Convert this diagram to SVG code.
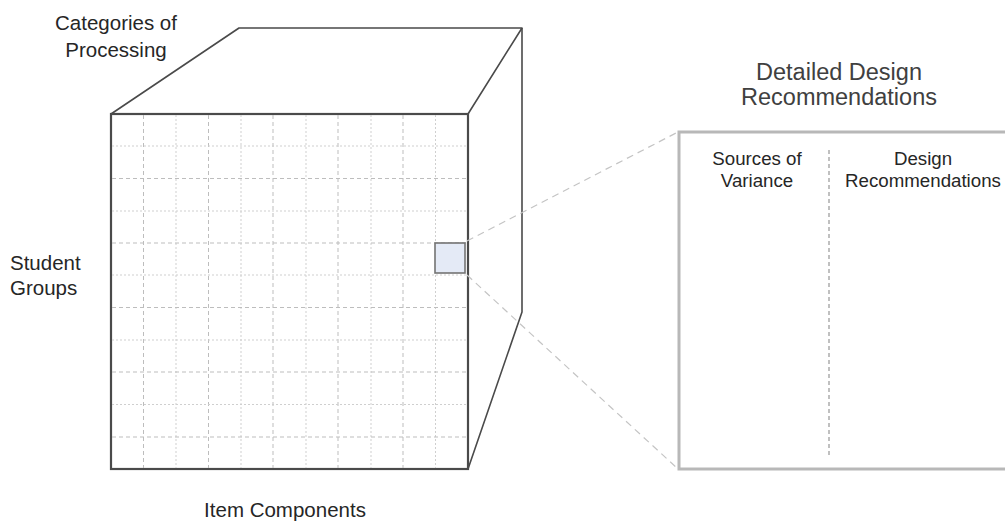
<svg xmlns="http://www.w3.org/2000/svg" width="1005" height="523" viewBox="0 0 1005 523">
  <style>
    .label { font-family: "Liberation Sans", Arial, sans-serif; fill: #262626; }
    .cube-label { font-size: 20.5px; }
    .head { font-size: 23.5px; fill: #404040; }
    .col { font-size: 18.7px; }
    .edge { fill: none; stroke: #4a4a4a; stroke-width: 1.6; stroke-linejoin: round; }
    .front { fill: #ffffff; stroke: #4a4a4a; stroke-width: 2.2; }
    .grid-a { stroke: #cfcfcf; stroke-width: 1; stroke-dasharray: 2 2; }
    .grid-b { stroke: #bdbdbd; stroke-width: 1; stroke-dasharray: 4 3; }
    .zoomline { stroke: #c4c4c4; stroke-width: 1.2; stroke-dasharray: 7 5; fill: none; }
    .panel { fill: #ffffff; stroke: #b8b8b8; stroke-width: 3; }
    .divider { stroke: #c0c0c0; stroke-width: 2; stroke-dasharray: 4 3; }
  </style>

  <!-- Cube: top and side faces -->
  <g id="cube">
    <polygon class="edge" fill="#ffffff" points="111,114 239,28 522,28 468,114"/>
    <polyline class="edge" points="522,28 522,312 468,469"/>
    <rect class="front" x="111" y="114" width="357" height="355"/>
    <!-- front face grid: 11 x 11 cells -->
    <g id="grid">
      <line class="grid-b" x1="143.5" y1="115" x2="143.5" y2="468"/>
      <line class="grid-a" x1="176" y1="115" x2="176" y2="468"/>
      <line class="grid-b" x1="208.5" y1="115" x2="208.5" y2="468"/>
      <line class="grid-a" x1="241" y1="115" x2="241" y2="468"/>
      <line class="grid-b" x1="273" y1="115" x2="273" y2="468"/>
      <line class="grid-a" x1="306" y1="115" x2="306" y2="468"/>
      <line class="grid-b" x1="338" y1="115" x2="338" y2="468"/>
      <line class="grid-a" x1="371" y1="115" x2="371" y2="468"/>
      <line class="grid-b" x1="403" y1="115" x2="403" y2="468"/>
      <line class="grid-a" x1="435.5" y1="115" x2="435.5" y2="468"/>

      <line class="grid-a" x1="112" y1="146" x2="467" y2="146"/>
      <line class="grid-b" x1="112" y1="178.5" x2="467" y2="178.5"/>
      <line class="grid-a" x1="112" y1="211" x2="467" y2="211"/>
      <line class="grid-b" x1="112" y1="243" x2="467" y2="243"/>
      <line class="grid-a" x1="112" y1="275" x2="467" y2="275"/>
      <line class="grid-b" x1="112" y1="307.5" x2="467" y2="307.5"/>
      <line class="grid-a" x1="112" y1="340" x2="467" y2="340"/>
      <line class="grid-b" x1="112" y1="372" x2="467" y2="372"/>
      <line class="grid-a" x1="112" y1="404.5" x2="467" y2="404.5"/>
      <line class="grid-b" x1="112" y1="437" x2="467" y2="437"/>
    </g>
  </g>

  <!-- Highlighted cell -->
  <g id="cell">
    <rect x="435" y="243" width="30" height="30" fill="#e4eaf6" stroke="#737373" stroke-width="1.6"/>
  </g>

  <!-- Zoom connectors from the cell to the detail panel -->
  <g id="connectors">
    <line class="zoomline" x1="467" y1="241" x2="678" y2="132"/>
    <line class="zoomline" x1="467" y1="275" x2="678" y2="469"/>
  </g>

  <!-- Detail panel -->
  <g id="panel">
    <rect class="panel" x="679" y="132" width="340" height="337"/>
    <line class="divider" x1="829" y1="150" x2="829" y2="455"/>
    <text class="label col" text-anchor="middle" x="757" y="165">Sources of</text>
    <text class="label col" text-anchor="middle" x="757" y="187">Variance</text>
    <text class="label col" text-anchor="middle" x="923" y="165">Design</text>
    <text class="label col" text-anchor="middle" x="923" y="187">Recommendations</text>
  </g>

  <g id="panel-title">
    <text class="label head" text-anchor="middle" x="839" y="80">Detailed Design</text>
    <text class="label head" text-anchor="middle" x="839" y="105">Recommendations</text>
  </g>

  <!-- Axis labels -->
  <g id="axis-categories">
    <text class="label cube-label" text-anchor="middle" x="116" y="30">Categories of</text>
    <text class="label cube-label" text-anchor="middle" x="116" y="57">Processing</text>
  </g>
  <g id="axis-students">
    <text class="label cube-label" x="10" y="270">Student</text>
    <text class="label cube-label" x="10" y="295">Groups</text>
  </g>
  <g id="axis-items">
    <text class="label cube-label" text-anchor="middle" x="285" y="517">Item Components</text>
  </g>
</svg>
